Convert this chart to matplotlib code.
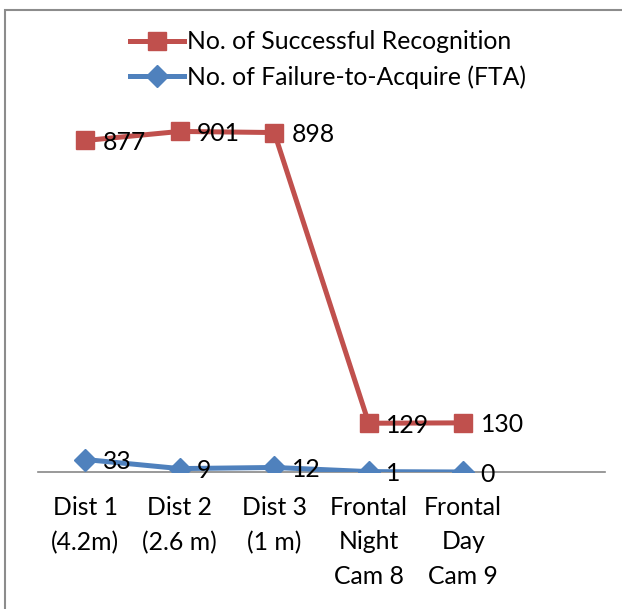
import matplotlib.pyplot as plt
from matplotlib.patches import Rectangle

# Recognition results per capture setting
categories = ['Dist 1\n(4.2m)', 'Dist 2\n(2.6 m)', 'Dist 3\n(1 m)',
              'Frontal\nNight\nCam 8', 'Frontal\nDay\nCam 9']
successful = [877, 901, 898, 129, 130]
fta = [33, 9, 12, 1, 0]

red = '#C0504D'
blue = '#4F81BD'
plt.rcParams['font.family'] = ['Lato', 'DejaVu Sans']
fs = 17.8

fig = plt.figure(figsize=(6.22, 6.09), dpi=100)
ax = fig.add_axes([38 / 622, 1 - 472 / 609, 567 / 622, 378 / 609])

x = list(range(len(categories)))
l1, = ax.plot(x, successful, color=red, lw=3.6, marker='s', ms=13,
              label='No. of Successful Recognition', zorder=3)
l2, = ax.plot(x, fta, color=blue, lw=3.6, marker='D', ms=11,
              label='No. of Failure-to-Acquire (FTA)', zorder=3)

for xi, v in zip(x, successful):
    ax.annotate(str(v), (xi, v), xytext=(12.5, -1.5), textcoords='offset points',
                ha='left', va='center', fontsize=fs, zorder=5)
for xi, v in zip(x, fta):
    ax.annotate(str(v), (xi, v), xytext=(12.5, -1.5), textcoords='offset points',
                ha='left', va='center', fontsize=fs, zorder=5)

ax.set_xlim(-0.5, 5.5)
ax.set_ylim(0, 1000)
ax.set_xticks(x)
ax.set_xticklabels(categories, fontsize=fs, linespacing=1.62)
ax.tick_params(axis='x', length=0, pad=17)
ax.set_yticks([])
for s in ['top', 'right', 'left']:
    ax.spines[s].set_visible(False)
ax.spines['bottom'].set_color('#888888')
ax.spines['bottom'].set_linewidth(1.2)
ax.spines['bottom'].set_zorder(1)
ax.patch.set_visible(False)

fig.legend(handles=[l1, l2], loc='upper center', bbox_to_anchor=(0.527, 0.987),
           frameon=False, fontsize=fs, handlelength=2.2, handletextpad=0.1,
           labelspacing=0.5)

# chart area border
fig.patches.append(Rectangle((5 / 622, -0.1), 1.2, 1 - 10 / 609 + 0.1,
                             transform=fig.transFigure, fill=False,
                             edgecolor='#8c8c8c', lw=1.5))

fig.savefig('out.png', dpi=100, facecolor='white')
